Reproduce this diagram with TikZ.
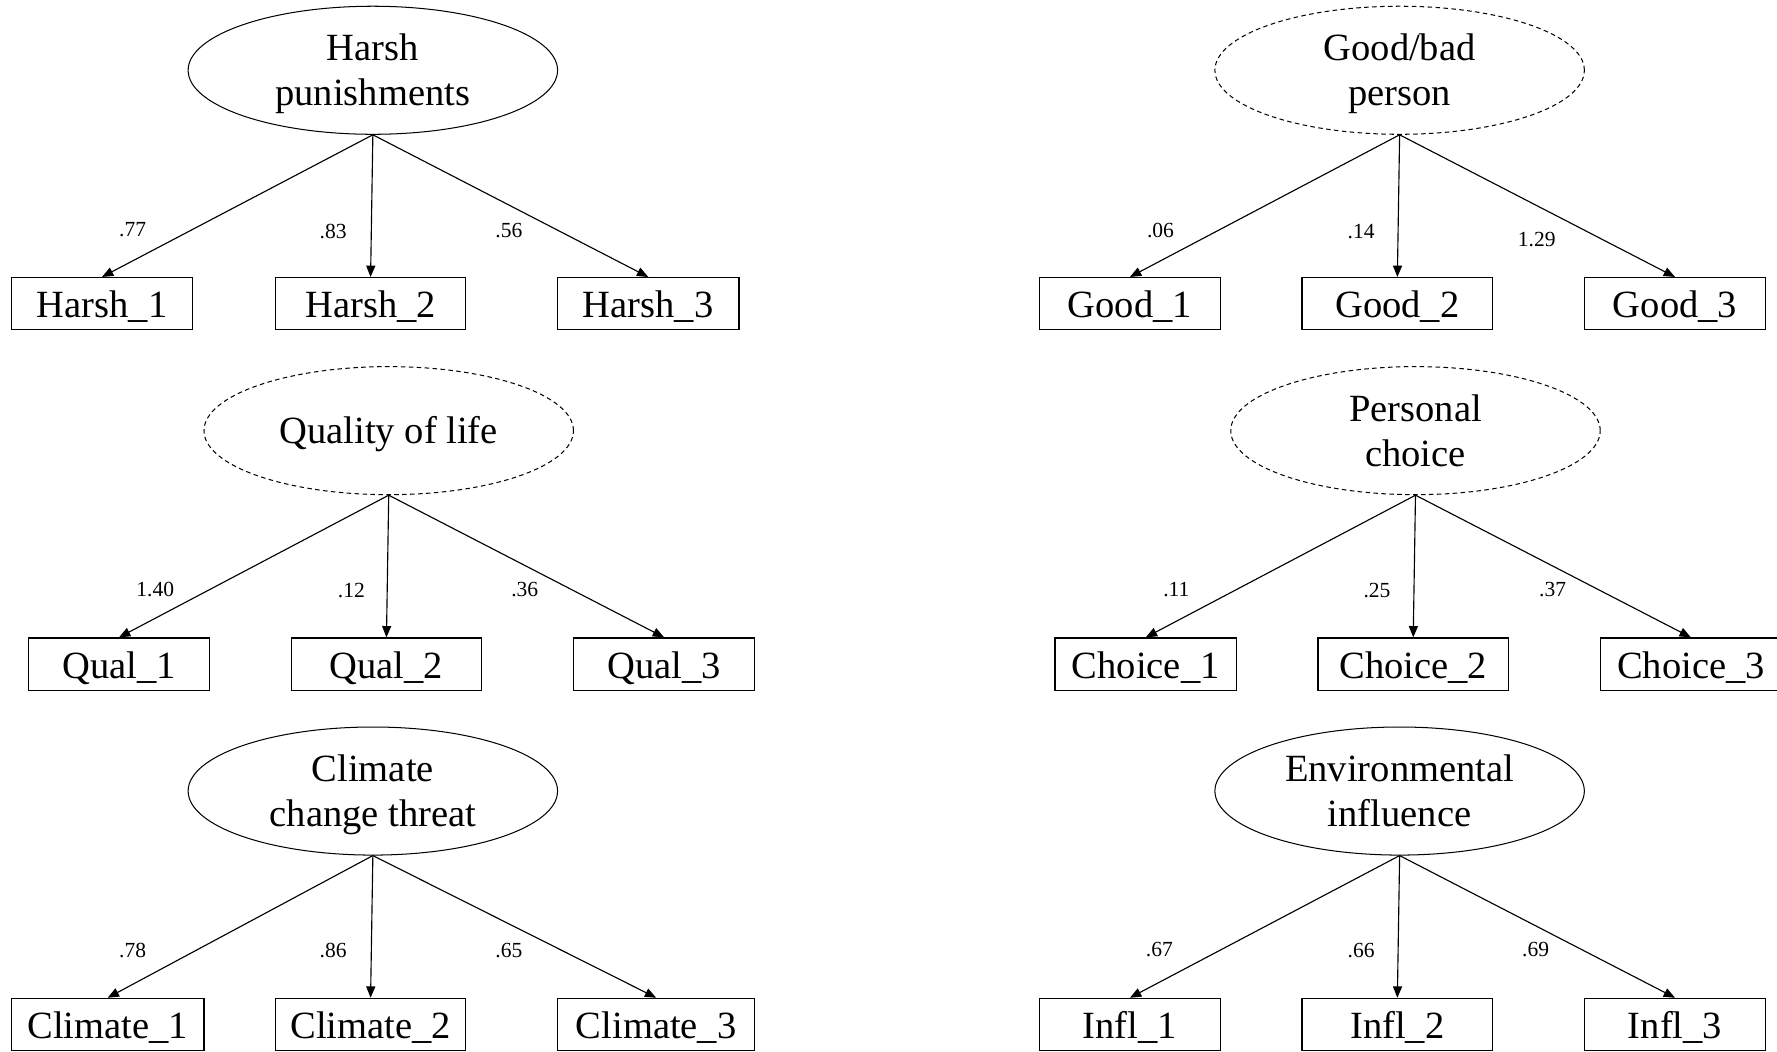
\documentclass[tikz,border=0pt]{standalone}
\usepackage{fontspec}
\setmainfont{Liberation Serif}
\usetikzlibrary{arrows.meta,shapes.geometric}
\begin{document}
\begin{tikzpicture}[x=1pt,y=-1pt,
 latent/.style={ellipse, draw, line width=0.9pt, minimum width=326pt, minimum height=113pt, inner sep=0pt, align=center, text height=63pt, text depth=0pt, font=\fontsize{34}{40}\selectfont},
 latentd/.style={latent, dash pattern=on 4pt off 3pt},
 obs/.style={rectangle, draw, line width=1.2pt, minimum width=160pt, minimum height=46pt, inner sep=0pt, text height=25pt, text depth=0pt, font=\fontsize{34}{40}\selectfont},
 wideobs/.style={obs, minimum width=168pt},
 load/.style={-{Triangle[length=10pt,width=8pt]}, line width=1pt},
 coef/.style={inner sep=0pt, font=\fontsize{19}{22}\selectfont}
]
\useasboundingbox (0,0) rectangle (1568,928);

% Row 1 left
\node[latent] (hp) at (329,62) {Harsh\\punishments};
\node[obs] (h1) at (90,268) {Harsh\_1};
\node[wideobs] (h2) at (327,268) {Harsh\_2};
\node[obs] (h3) at (572,268) {Harsh\_3};
\draw[load] (hp.south) -- (h1.north);
\draw[load] (hp.south) -- (h2.north);
\draw[load] (hp.south) -- (h3.north);
\node[coef] (lh1) at (117,203) {.77};
\node[coef] (lh2) at (294,204) {.83};
\node[coef] (lh3) at (449,203) {.56};

% Row 1 right
\node[latentd] (gb) at (1235,62) {Good/bad\\person};
\node[obs] (g1) at (997,268) {Good\_1};
\node[wideobs] (g2) at (1233,268) {Good\_2};
\node[obs] (g3) at (1478,268) {Good\_3};
\draw[load] (gb.south) -- (g1.north);
\draw[load] (gb.south) -- (g2.north);
\draw[load] (gb.south) -- (g3.north);
\node[coef] (lg1) at (1024,203) {.06};
\node[coef] (lg2) at (1201,204) {.14};
\node[coef] (lg3) at (1356,211) {1.29};

% Row 2 left
\node[latentd, text height=22pt, text depth=0pt] (ql) at (343,380) {Quality of life};
\node[obs] (q1) at (105,586) {Qual\_1};
\node[wideobs] (q2) at (341,586) {Qual\_2};
\node[obs] (q3) at (586,586) {Qual\_3};
\draw[load] (ql.south) -- (q1.north);
\draw[load] (ql.south) -- (q2.north);
\draw[load] (ql.south) -- (q3.north);
\node[coef] (lq1) at (137,520) {1.40};
\node[coef] (lq2) at (310,521) {.12};
\node[coef] (lq3) at (463,520) {.36};

% Row 2 right
\node[latentd] (pc) at (1249,380) {Personal\\choice};
\node[obs] (c1) at (1011,586) {Choice\_1};
\node[wideobs] (c2) at (1247,586) {Choice\_2};
\node[obs] (c3) at (1492,586) {Choice\_3};
\draw[load] (pc.south) -- (c1.north);
\draw[load] (pc.south) -- (c2.north);
\draw[load] (pc.south) -- (c3.north);
\node[coef] (lc1) at (1038,520) {.11};
\node[coef] (lc2) at (1215,521) {.25};
\node[coef] (lc3) at (1370,520) {.37};

% Row 3 left
\node[latent] (cc) at (329,698) {Climate\\change threat};
\node[obs, minimum width=170pt] (k1) at (95,904) {Climate\_1};
\node[wideobs] (k2) at (327,904) {Climate\_2};
\node[obs, minimum width=174pt] (k3) at (579,904) {Climate\_3};
\draw[load] (cc.south) -- (k1.north);
\draw[load] (cc.south) -- (k2.north);
\draw[load] (cc.south) -- (k3.north);
\node[coef] (lk1) at (117,839) {.78};
\node[coef] (lk2) at (294,839) {.86};
\node[coef] (lk3) at (449,839) {.65};

% Row 3 right
\node[latent] (ei) at (1235,698) {Environmental\\influence};
\node[obs] (i1) at (997,904) {Infl\_1};
\node[wideobs] (i2) at (1233,904) {Infl\_2};
\node[obs] (i3) at (1478,904) {Infl\_3};
\draw[load] (ei.south) -- (i1.north);
\draw[load] (ei.south) -- (i2.north);
\draw[load] (ei.south) -- (i3.north);
\node[coef] (li1) at (1023,838) {.67};
\node[coef] (li2) at (1201,839) {.66};
\node[coef] (li3) at (1355,838) {.69};
\end{tikzpicture}
\end{document}
